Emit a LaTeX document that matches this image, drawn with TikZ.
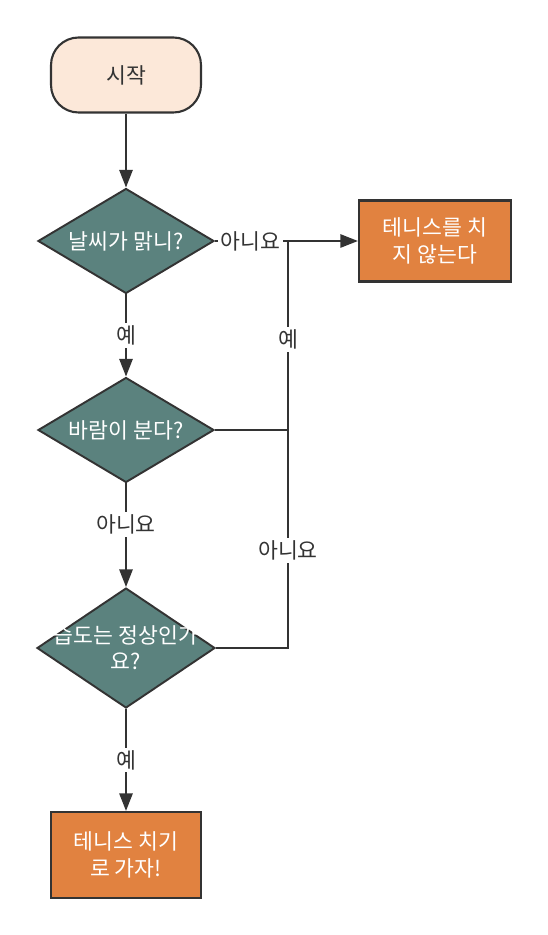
\documentclass[tikz,border=0pt]{standalone}
\usepackage{fontspec}
\setmainfont{Noto Sans CJK KR}
\usetikzlibrary{shapes,arrows.meta,positioning,calc}
\definecolor{linecolor}{RGB}{51,51,51}
\definecolor{startcolor}{RGB}{252,232,217}
\definecolor{decisioncolor}{RGB}{91,130,126}
\definecolor{processcolor}{RGB}{225,130,64}

\begin{document}
\begin{tikzpicture}[
    x=0.02cm, y=-0.02cm,
    terminal/.style={rectangle, draw=linecolor, line width=1.2pt, fill=startcolor, rounded corners=0.55cm, minimum width=3cm, minimum height=1.5cm, font=\fontsize{12.3}{15}\selectfont, text=linecolor},
    decision/.style={diamond, draw=linecolor, line width=1.1pt, fill=decisioncolor, inner sep=-1.5cm, minimum width=3.52cm, minimum height=2.1cm, font=\fontsize{12.3}{15}\selectfont, text=white, align=center},
    process/.style={rectangle, draw=linecolor, line width=1.2pt, fill=processcolor, minimum width=3.04cm, minimum height=1.62cm, font=\fontsize{12.3}{15.5}\selectfont, text=white, align=center},
    flow/.style={-{Triangle[length=10pt, width=7.5pt]}, line width=1.2pt, draw=linecolor},
    link/.style={line width=1.2pt, draw=linecolor},
    lbl/.style={fill=white, inner sep=1.5pt, font=\fontsize{12.3}{15}\selectfont, text=linecolor}
]
\useasboundingbox (0,0) rectangle (547,935);

% Nodes
\node[terminal] (start) at (126,75) {시작};
\node[decision] (weather) at (126,241) {날씨가 맑니?};
\node[decision] (wind) at (126,430) {바람이 분다?};
\node[decision, minimum width=3.56cm, minimum height=2.4cm] (humidity) at (126,648) {습도는 정상인가\\요?};
\node[process] (noplay) at (435,241) {테니스를 치\\지 않는다};
\node[process, minimum width=3cm, minimum height=1.72cm] (play) at (126,855) {테니스 치기\\로 가자!};
\coordinate (join) at (288,241);

% Edges
\draw[flow] (start) -- (weather);
\draw[flow] (weather) -- node[lbl]{예} (wind);
\draw[flow] (wind) -- node[lbl, pos=0.4]{아니요} (humidity);
\draw[flow] (humidity) -- node[lbl]{예} (play);
\draw[link] (humidity.east) -| node[lbl, pos=0.62]{아니요} (join);
\draw[link] (wind.east) -| node[lbl, pos=0.74]{예} (join);
\draw[flow] (weather.east) -- node[lbl, pos=0.25]{아니요} (noplay.west);

\end{tikzpicture}
\end{document}
